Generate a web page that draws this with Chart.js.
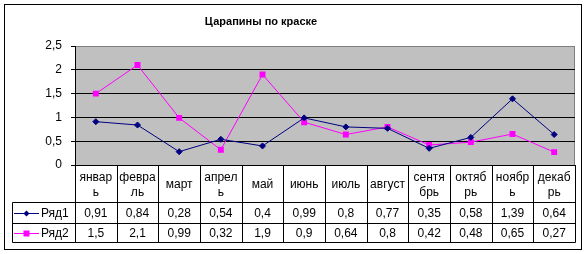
<!DOCTYPE html>
<html><head><meta charset="utf-8">
<script src="https://cdn.jsdelivr.net/npm/chart.js@4.4.0/dist/chart.umd.min.js"></script>
<style>html,body{margin:0;padding:0;background:#fff;}#wrap{width:586px;height:254px;}</style>
</head><body><div id="wrap"><canvas id="c" width="586" height="254"></canvas></div>
<script>
const titleText = "Царапины по краске";
const categories = [["январ","ь"],["февра","ль"],["март"],["апрел","ь"],["май"],["июнь"],["июль"],["август"],["сентя","брь"],["октяб","рь"],["ноябр","ь"],["декаб","рь"]];
const series1Name = "Ряд1";
const series1 = [0.91,0.84,0.28,0.54,0.4,0.99,0.8,0.77,0.35,0.58,1.39,0.64];
const series2Name = "Ряд2";
const series2 = [1.5,2.1,0.99,0.32,1.9,0.9,0.64,0.8,0.42,0.48,0.65,0.27];
const yTicks = [0,0.5,1,1.5,2,2.5];

const FONT = "'Liberation Sans', Arial, sans-serif";
const fmt = v => String(v).replace('.', ',');
const C1 = '#000080', C2 = '#FF00FF';

const tablePlugin = {
  id: 'tbl',
  beforeDraw(chart) {
    const ctx = chart.ctx, a = chart.chartArea;
    ctx.save();
    ctx.fillStyle = '#fff';
    ctx.fillRect(0,0,chart.width,chart.height);
    ctx.fillStyle = '#C0C0C0';
    ctx.fillRect(a.left, a.top, a.right-a.left, a.bottom-a.top);
    ctx.strokeStyle = '#808080'; ctx.lineWidth = 1;
    ctx.strokeRect(a.left+0.5, a.top+0.5, a.right-a.left-1, a.bottom-a.top);
    ctx.restore();
  },
  afterDraw(chart) {
    const ctx = chart.ctx, a = chart.chartArea, xs = chart.scales.x;
    const n = categories.length;
    const w = (xs.getPixelForValue(1) - xs.getPixelForValue(0));
    const yTop = a.bottom, yCat = 202.5, yR1 = 223.5, yR2 = 242.5, xKey = 12.5;
    ctx.save();
    ctx.strokeStyle = '#000'; ctx.lineWidth = 1;
    ctx.strokeRect(4.5, 4.5, 577, 245);
    ctx.fillStyle = '#000';
    ctx.font = 'bold 11px ' + FONT;
    ctx.textAlign = 'center'; ctx.textBaseline = 'middle';
    ctx.fillText(titleText, 261, 22);
    ctx.beginPath();
    for (let i = 0; i <= n; i++) {
      const x = Math.round(xs.getPixelForValue(i) - w/2) + 0.5;
      ctx.moveTo(x, yTop); ctx.lineTo(x, yR2);
    }
    ctx.moveTo(xKey, yCat); ctx.lineTo(xKey, yR2);
    [yCat, yR1, yR2].forEach(y => { ctx.moveTo(xKey, y); ctx.lineTo(Math.round(a.right)+0.5, y); });
    ctx.stroke();
    ctx.font = '12px ' + FONT;
    ctx.textBaseline = 'alphabetic';
    categories.forEach((lab, i) => {
      const x = xs.getPixelForValue(i);
      if (lab.length === 1) ctx.fillText(lab[0], x, 188);
      else { ctx.fillText(lab[0], x, 181); ctx.fillText(lab[1], x, 196); }
    });
    ctx.textBaseline = 'middle';
    series1.forEach((v,i) => ctx.fillText(fmt(v), xs.getPixelForValue(i), 214));
    series2.forEach((v,i) => ctx.fillText(fmt(v), xs.getPixelForValue(i), 234));
    ctx.textAlign = 'left';
    ctx.fillText(series1Name, 41, 214);
    ctx.fillText(series2Name, 41, 234);
    ctx.lineWidth = 1;
    ctx.strokeStyle = C1; ctx.beginPath(); ctx.moveTo(14, 213.5); ctx.lineTo(39, 213.5); ctx.stroke();
    ctx.strokeStyle = C2; ctx.beginPath(); ctx.moveTo(14, 233.5); ctx.lineTo(39, 233.5); ctx.stroke();
    ctx.fillStyle = C1;
    ctx.beginPath(); ctx.moveTo(26.5,210.5); ctx.lineTo(29.5,213.5); ctx.lineTo(26.5,216.5); ctx.lineTo(23.5,213.5); ctx.closePath(); ctx.fill();
    ctx.fillStyle = C2;
    ctx.fillRect(23.5, 230.5, 6, 6);
    ctx.restore();
  }
};

new Chart(document.getElementById('c'), {
  type: 'line',
  data: {
    labels: categories.map(c => c.join('')),
    datasets: [
      {label: series1Name, data: series1, borderColor: C1, backgroundColor: C1, borderWidth: 1,
       pointStyle: 'rectRot', pointRadius: 3, pointBorderWidth: 1, tension: 0},
      {label: series2Name, data: series2, borderColor: C2, backgroundColor: C2, borderWidth: 1,
       pointStyle: 'rect', pointRadius: 4.2, pointBorderWidth: 0, tension: 0}
    ]
  },
  options: {
    responsive: false, animation: false, devicePixelRatio: 1,
    layout: {padding: {top: 46, right: 11, left: 0, bottom: 0}},
    plugins: {legend: {display: false}, title: {display: false}, tooltip: {enabled: false}},
    scales: {
      x: {
        offset: true,
        grid: {display: false},
        border: {display: true, color: '#000'},
        ticks: {display: false},
        afterFit: s => { s.height = 89; }
      },
      y: {
        min: 0, max: 2.5,
        afterBuildTicks: s => { s.ticks = yTicks.map(v => ({value: v})); },
        afterFit: s => { s.width = 75; },
        grid: {color: ctx => (ctx.tick && ctx.tick.value === 2.5) ? '#808080' : '#000', tickColor: '#000', tickLength: 4, lineWidth: 1},
        border: {display: true, color: '#000'},
        ticks: {padding: 9, color: '#000', font: {family: FONT, size: 12}, callback: v => fmt(v)}
      }
    }
  },
  plugins: [tablePlugin]
});
</script></body></html>
